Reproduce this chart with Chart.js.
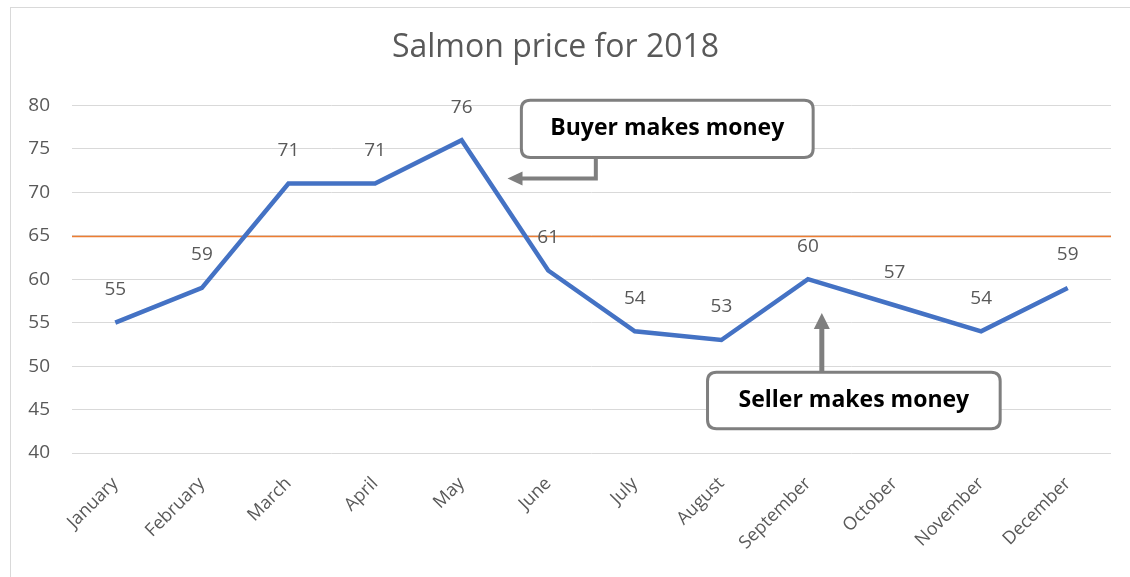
<!DOCTYPE html>
<html>
  <head>
    <title>Salmon price for 2018</title>
    <script src="https://cdn.jsdelivr.net/npm/chart.js"></script>
    <style>
      html, body { margin: 0; padding: 0; background: #ffffff; }
      #wrap { width: 1130px; height: 577px; }
    </style>
  </head>
  <body>
    <div id="wrap">
      <canvas id="salmon_chart"></canvas>
    </div>

    <script>
      var months = [
        "January", "February", "March", "April", "May", "June",
        "July", "August", "September", "October", "November", "December",
      ];
      var prices = [55, 59, 71, 71, 76, 61, 54, 53, 60, 57, 54, 59];
      var breakEven = 65;
      var yTicks = [40, 45, 50, 55, 60, 65, 70, 75, 80];

      // callouts, given in data space (category index, value)
      var buyerNote = { text: "Buyer makes money", x0: 4.69, x1: 8.06, y0: 80.6, y1: 74.0, stemX: 5.55, elbowY: 71.6, tipX: 4.53 };
      var sellerNote = { text: "Seller makes money", x0: 6.84, x1: 10.22, y0: 49.3, y1: 42.8, stemX: 8.16, tipY: 56.1 };

      var FONT = "'Open Sans', sans-serif";
      var GREY = "#595959";
      var ARROW = "#7f7f7f";

      function roundRect(ctx, x, y, w, h, r) {
        ctx.beginPath();
        ctx.moveTo(x + r, y);
        ctx.lineTo(x + w - r, y);
        ctx.quadraticCurveTo(x + w, y, x + w, y + r);
        ctx.lineTo(x + w, y + h - r);
        ctx.quadraticCurveTo(x + w, y + h, x + w - r, y + h);
        ctx.lineTo(x + r, y + h);
        ctx.quadraticCurveTo(x, y + h, x, y + h - r);
        ctx.lineTo(x, y + r);
        ctx.quadraticCurveTo(x, y, x + r, y);
        ctx.closePath();
      }

      function drawBox(ctx, xs, ys, note) {
        var left = xs.getPixelForValue(note.x0);
        var right = xs.getPixelForValue(note.x1);
        var top = ys.getPixelForValue(note.y0);
        var bottom = ys.getPixelForValue(note.y1);
        ctx.fillStyle = "#ffffff";
        ctx.strokeStyle = ARROW;
        ctx.lineWidth = 3;
        roundRect(ctx, left, top, right - left, bottom - top, 9);
        ctx.fill();
        ctx.stroke();
        ctx.fillStyle = "#000000";
        ctx.font = "bold 23px " + FONT;
        ctx.textAlign = "center";
        ctx.textBaseline = "middle";
        ctx.fillText(note.text, (left + right) / 2, (top + bottom) / 2);
        return { left: left, right: right, top: top, bottom: bottom };
      }

      var extrasPlugin = {
        id: "extras",
        beforeDraw: function (chart) {
          var ctx = chart.ctx;
          ctx.save();
          ctx.strokeStyle = "#d9d9d9";
          ctx.lineWidth = 1;
          ctx.strokeRect(10.5, 7.5, 1200, 700);
          ctx.restore();
        },
        beforeDatasetsDraw: function (chart) {
          var ctx = chart.ctx;
          var ys = chart.scales.y;
          var area = chart.chartArea;
          var y = Math.round(ys.getPixelForValue(breakEven)) + 0.5;
          ctx.save();
          ctx.strokeStyle = "#ed7d31";
          ctx.lineWidth = 1.5;
          ctx.beginPath();
          ctx.moveTo(area.left, y);
          ctx.lineTo(area.right, y);
          ctx.stroke();
          ctx.restore();
        },
        afterDatasetsDraw: function (chart) {
          var ctx = chart.ctx;
          var meta = chart.getDatasetMeta(0);
          ctx.save();
          ctx.fillStyle = GREY;
          ctx.font = "19px " + FONT;
          ctx.textAlign = "center";
          ctx.textBaseline = "middle";
          meta.data.forEach(function (pt, i) {
            ctx.fillText(prices[i], pt.x, pt.y - 33);
          });
          ctx.restore();
        },
        afterDraw: function (chart) {
          var ctx = chart.ctx;
          var xs = chart.scales.x;
          var ys = chart.scales.y;
          ctx.save();

          // buyer callout with elbow arrow pointing left
          var b = drawBox(ctx, xs, ys, buyerNote);
          var sx = xs.getPixelForValue(buyerNote.stemX);
          var ey = ys.getPixelForValue(buyerNote.elbowY);
          var tx = xs.getPixelForValue(buyerNote.tipX);
          ctx.strokeStyle = ARROW;
          ctx.fillStyle = ARROW;
          ctx.lineWidth = 4;
          ctx.lineJoin = "miter";
          ctx.beginPath();
          ctx.moveTo(sx, b.bottom + 1);
          ctx.lineTo(sx, ey);
          ctx.lineTo(tx + 12, ey);
          ctx.stroke();
          ctx.beginPath();
          ctx.moveTo(tx, ey);
          ctx.lineTo(tx + 15, ey - 7);
          ctx.lineTo(tx + 15, ey + 7);
          ctx.closePath();
          ctx.fill();

          // seller callout with arrow pointing up
          var s = drawBox(ctx, xs, ys, sellerNote);
          var ax = xs.getPixelForValue(sellerNote.stemX);
          var ty = ys.getPixelForValue(sellerNote.tipY);
          ctx.strokeStyle = ARROW;
          ctx.fillStyle = ARROW;
          ctx.lineWidth = 5;
          ctx.beginPath();
          ctx.moveTo(ax, s.top - 1);
          ctx.lineTo(ax, ty + 12);
          ctx.stroke();
          ctx.beginPath();
          ctx.moveTo(ax, ty);
          ctx.lineTo(ax - 8, ty + 16);
          ctx.lineTo(ax + 8, ty + 16);
          ctx.closePath();
          ctx.fill();

          ctx.restore();
        },
      };

      var ctx = document.getElementById("salmon_chart").getContext("2d");

      var myChart = new Chart(ctx, {
        type: "line",
        data: {
          labels: months,
          datasets: [
            {
              label: "Salmon price",
              data: prices,
              borderColor: "#4472c4",
              borderWidth: 4.5,
              pointRadius: 0,
              fill: false,
              tension: 0,
            },
          ],
        },
        options: {
          responsive: true,
          maintainAspectRatio: false,
          animation: false,
          layout: { padding: { left: 0, right: 19, top: 0, bottom: 0 } },
          plugins: {
            legend: { display: false },
            tooltip: { enabled: false },
            title: {
              display: true,
              text: "Salmon price for 2018",
              color: GREY,
              font: { family: FONT, size: 32, weight: "normal" },
              padding: { top: 29, bottom: 38 },
            },
          },
          scales: {
            x: {
              offset: true,
              grid: { display: false, drawTicks: false },
              border: { display: false },
              ticks: {
                color: GREY,
                font: { family: FONT, size: 18 },
                maxRotation: 45,
                minRotation: 45,
                padding: 20,
                autoSkip: false,
              },
              afterFit: function (scale) {
                scale.height = 124;
              },
            },
            y: {
              min: 40,
              max: 80,
              afterBuildTicks: function (scale) {
                scale.ticks = yTicks.map(function (v) { return { value: v }; });
              },
              grid: { color: "#d9d9d9", drawTicks: false, lineWidth: 1 },
              border: { display: false },
              ticks: {
                color: GREY,
                font: { family: FONT, size: 19 },
                padding: 22,
              },
              afterFit: function (scale) {
                scale.width = 72;
              },
            },
          },
        },
        plugins: [extrasPlugin],
      });
    </script>
  </body>
</html>
